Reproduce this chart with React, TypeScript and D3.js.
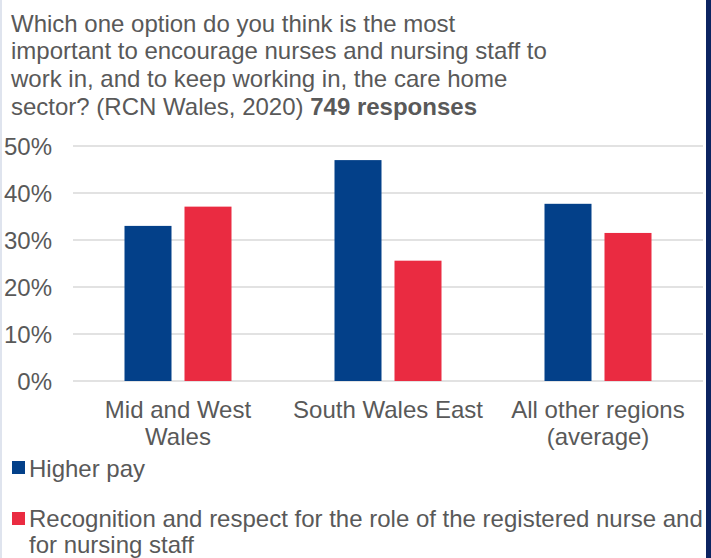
// @ts-nocheck
import * as d3 from 'd3';
import React, { useEffect, useRef } from 'react';

const titleLines = [
  'Which one option do you think is the most',
  'important to encourage nurses and nursing staff to',
  'work in, and to keep working in, the care home',
];
const titleLast = 'sector? (RCN Wales, 2020) ';
const titleBold = '749 responses';

const categories = ['Mid and West Wales', 'South Wales East', 'All other regions (average)'];
const categoryLines = [['Mid and West', 'Wales'], ['South Wales East'], ['All other regions', '(average)']];
const seriesNames = ['Higher pay', 'Recognition and respect for the role of the registered nurse and for nursing staff'];
const higherPay = [0.33, 0.47, 0.377];
const recognition = [0.371, 0.256, 0.315];
const yTicks = [0, 0.1, 0.2, 0.3, 0.4, 0.5];

const legendLines = [['Higher pay'], ['Recognition and respect for the role of the registered nurse and', 'for nursing staff']];

const colors = ['#034089', '#EA2B41'];
const textColor = '#595959';
const FONT = '"Liberation Sans", Arial, sans-serif';
const FONT_SIZE = '24px';

const App = () => {
  const svgRef = useRef(null);
  const width = 711;
  const height = 558;

  useEffect(() => {
    const svg = d3.select(svgRef.current);
    svg.selectAll('*').remove();

    svg.append('rect').attr('width', width).attr('height', height).attr('fill', '#ffffff');
    // frame edges
    svg.append('rect').attr('x', 0).attr('y', 0).attr('width', 2).attr('height', height).attr('fill', '#dfe4ee');
    svg.append('rect').attr('x', 706).attr('y', 0).attr('width', 5).attr('height', height).attr('fill', '#0c2461');

    // title
    const title = svg.append('g').style('font-family', FONT).style('font-size', FONT_SIZE).attr('fill', textColor);
    titleLines.forEach((t, i) => {
      title.append('text').attr('x', 11).attr('y', 31.5 + i * 27.7).text(t);
    });
    const last = title.append('text').attr('x', 11).attr('y', 31.5 + 3 * 27.7);
    last.append('tspan').text(titleLast);
    last.append('tspan').attr('font-weight', 'bold').text(titleBold);

    // scales
    const x0 = d3.scaleBand().domain(categories).range([73, 703]).padding(0);
    const x1 = d3.scaleBand().domain(seriesNames).range([51.5, 158.5]).paddingInner(0.2167).paddingOuter(0);
    const y = d3.scaleLinear().domain([0, 0.5]).range([381, 146]);

    // gridlines
    svg.append('g')
      .selectAll('line')
      .data(yTicks)
      .join('line')
      .attr('x1', 73)
      .attr('x2', 703)
      .attr('y1', d => y(d))
      .attr('y2', d => y(d))
      .attr('stroke', '#d9d9d9')
      .attr('stroke-width', 1.5);

    // y labels
    svg.append('g')
      .selectAll('text')
      .data(yTicks)
      .join('text')
      .attr('x', 52)
      .attr('y', d => y(d))
      .attr('dy', '0.36em')
      .attr('text-anchor', 'end')
      .style('font-family', FONT)
      .style('font-size', FONT_SIZE)
      .attr('fill', textColor)
      .text(d => d3.format('.0%')(d));

    // bars
    const seriesData = [higherPay, recognition];
    categories.forEach((c, ci) => {
      seriesNames.forEach((s, si) => {
        const v = seriesData[si][ci];
        svg.append('rect')
          .attr('x', x0(c) + x1(s))
          .attr('y', y(v))
          .attr('width', x1.bandwidth())
          .attr('height', y(0) - y(v))
          .attr('fill', colors[si]);
      });
    });

    // category labels
    categories.forEach((c, ci) => {
      const cx = x0(c) + x0.bandwidth() / 2;
      categoryLines[ci].forEach((line, li) => {
        svg.append('text')
          .attr('x', cx)
          .attr('y', 418 + li * 27)
          .attr('text-anchor', 'middle')
          .style('font-family', FONT)
          .style('font-size', FONT_SIZE)
          .attr('fill', textColor)
          .text(line);
      });
    });

    // legend
    const legendTop = [461, 512];
    const legendBase = [477, 527];
    seriesNames.forEach((s, si) => {
      svg.append('rect')
        .attr('x', 12)
        .attr('y', legendTop[si])
        .attr('width', 13)
        .attr('height', 13)
        .attr('fill', colors[si]);
      legendLines[si].forEach((line, li) => {
        svg.append('text')
          .attr('x', 29)
          .attr('y', legendBase[si] + li * 25.5)
          .style('font-family', FONT)
          .style('font-size', FONT_SIZE)
          .attr('fill', textColor)
          .text(line);
      });
    });
  }, []);

  return (
    <svg
      ref={svgRef}
      width={width}
      height={height}
      style={{ position: 'fixed', left: 0, top: 0, display: 'block' }}
    />
  );
};

export default App;
